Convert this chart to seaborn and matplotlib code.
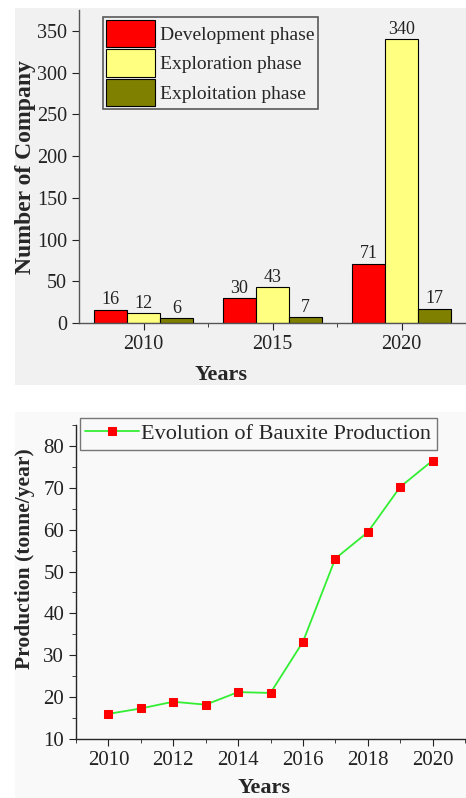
import matplotlib
matplotlib.use("Agg")
import matplotlib.pyplot as plt
from matplotlib.patches import Rectangle
from matplotlib.ticker import MultipleLocator, FixedLocator
import seaborn as sns
import pandas as pd

# bar chart data
years_bar = ['2010', '2015', '2020']
phases = ['Development phase', 'Exploration phase', 'Exploitation phase']
development = [16, 30, 71]
exploration = [12, 43, 340]
exploitation = [6, 7, 17]
phase_colors = ['#ff0000', '#ffff80', '#808000']

# production line data
prod_years = [2010, 2011, 2012, 2013, 2014, 2015, 2016, 2017, 2018, 2019, 2020]
production = [16.0, 17.3, 18.9, 18.2, 21.2, 21.0, 33.2, 53.1, 59.4, 70.2, 76.5]

sns.set_style("ticks")
plt.rcParams['font.family'] = ['Liberation Serif', 'DejaVu Serif']
plt.rcParams['xtick.major.size'] = 5
plt.rcParams['ytick.major.size'] = 5
plt.rcParams['xtick.minor.size'] = 3
plt.rcParams['ytick.minor.size'] = 3
plt.rcParams['axes.linewidth'] = 1.0

fig = plt.figure(figsize=(4.66, 7.98), dpi=100)
fig.patch.set_facecolor('white')
# grey paper background of the two scanned panels
fig.patches.append(Rectangle((15/466, 1-385/798), 1, 377/798, transform=fig.transFigure,
                             facecolor='#f1f1f1', edgecolor='none', zorder=-10))
fig.patches.append(Rectangle((15/466, 0), 1, 1-412/798, transform=fig.transFigure,
                             facecolor='#f9f9f9', edgecolor='none', zorder=-10))

# ---- top: companies per phase ----
ax1 = fig.add_axes([79/466, 1-323/798, 387/466, 313/798])
ax1.set_facecolor('none')
df = pd.DataFrame({
    'Year': years_bar * 3,
    'Phase': [phases[0]] * 3 + [phases[1]] * 3 + [phases[2]] * 3,
    'Count': development + exploration + exploitation,
})
sns.barplot(data=df, x='Year', y='Count', hue='Phase', hue_order=phases,
            palette=phase_colors, width=0.77, edgecolor='black', linewidth=0.8,
            saturation=1, errorbar=None, ax=ax1)
for cont in ax1.containers:
    ax1.bar_label(cont, padding=1, fontsize=13, color='#222222')
ax1.set_xlim(-0.5, 2.5)
ax1.set_ylim(0, 375)
ax1.yaxis.set_major_locator(MultipleLocator(50))
ax1.xaxis.set_minor_locator(FixedLocator([0.5, 1.5]))
ax1.tick_params(axis='both', labelsize=14.5, colors='#222222')
ax1.set_xlabel('Years', fontsize=16, fontweight='bold')
ax1.xaxis.set_label_coords(0.367, -0.135)
ax1.set_ylabel('Number of Company', fontsize=17, fontweight='bold', labelpad=1)
sns.despine(ax=ax1)
ax1.spines['bottom'].set_color('#555555')
ax1.spines['left'].set_color('#555555')
leg1 = ax1.legend(loc='upper left', bbox_to_anchor=(0.062, 0.978), borderaxespad=0,
                  fontsize=14, frameon=True, fancybox=False, edgecolor='#333333',
                  handlelength=2.5, handleheight=1.78, labelspacing=0.12,
                  handletextpad=0.3, borderpad=0.15)
leg1.get_frame().set_facecolor('#f1f1f1')
leg1.get_frame().set_linewidth(1.2)

# ---- bottom: bauxite production ----
ax2 = fig.add_axes([76/466, 1-739/798, 389/466, 314/798])
ax2.set_facecolor('none')
prod = pd.DataFrame({'Year': prod_years, 'Production': production})
sns.lineplot(data=prod, x='Year', y='Production', color='#33ee33', linewidth=1.3,
             marker='s', markersize=6, markerfacecolor='#ff0000',
             markeredgecolor='#ff0000', label='Evolution of Bauxite Production', ax=ax2)
ax2.set_xlim(2009, 2021)
ax2.set_ylim(10, 85)
ax2.xaxis.set_major_locator(MultipleLocator(2))
ax2.xaxis.set_minor_locator(MultipleLocator(1))
ax2.yaxis.set_major_locator(MultipleLocator(10))
ax2.yaxis.set_minor_locator(MultipleLocator(5))
ax2.tick_params(axis='both', which='both', labelsize=15, colors='#222222')
ax2.set_xlabel('Years', fontsize=16, fontweight='bold')
ax2.xaxis.set_label_coords(0.483, -0.125)
ax2.set_ylabel('Production (tonne/year)', fontsize=15.5, fontweight='bold')
ax2.yaxis.set_label_coords(-0.105, 0.573)
sns.despine(ax=ax2)
leg2 = ax2.legend(loc='upper left', bbox_to_anchor=(0.01, 1.022), borderaxespad=0,
                  fontsize=16, frameon=True, fancybox=False, edgecolor='#555555',
                  handlelength=2.4, handletextpad=0.1, borderpad=0.25)
leg2.get_frame().set_facecolor('#f9f9f9')

fig.savefig('out.png', dpi=100)
